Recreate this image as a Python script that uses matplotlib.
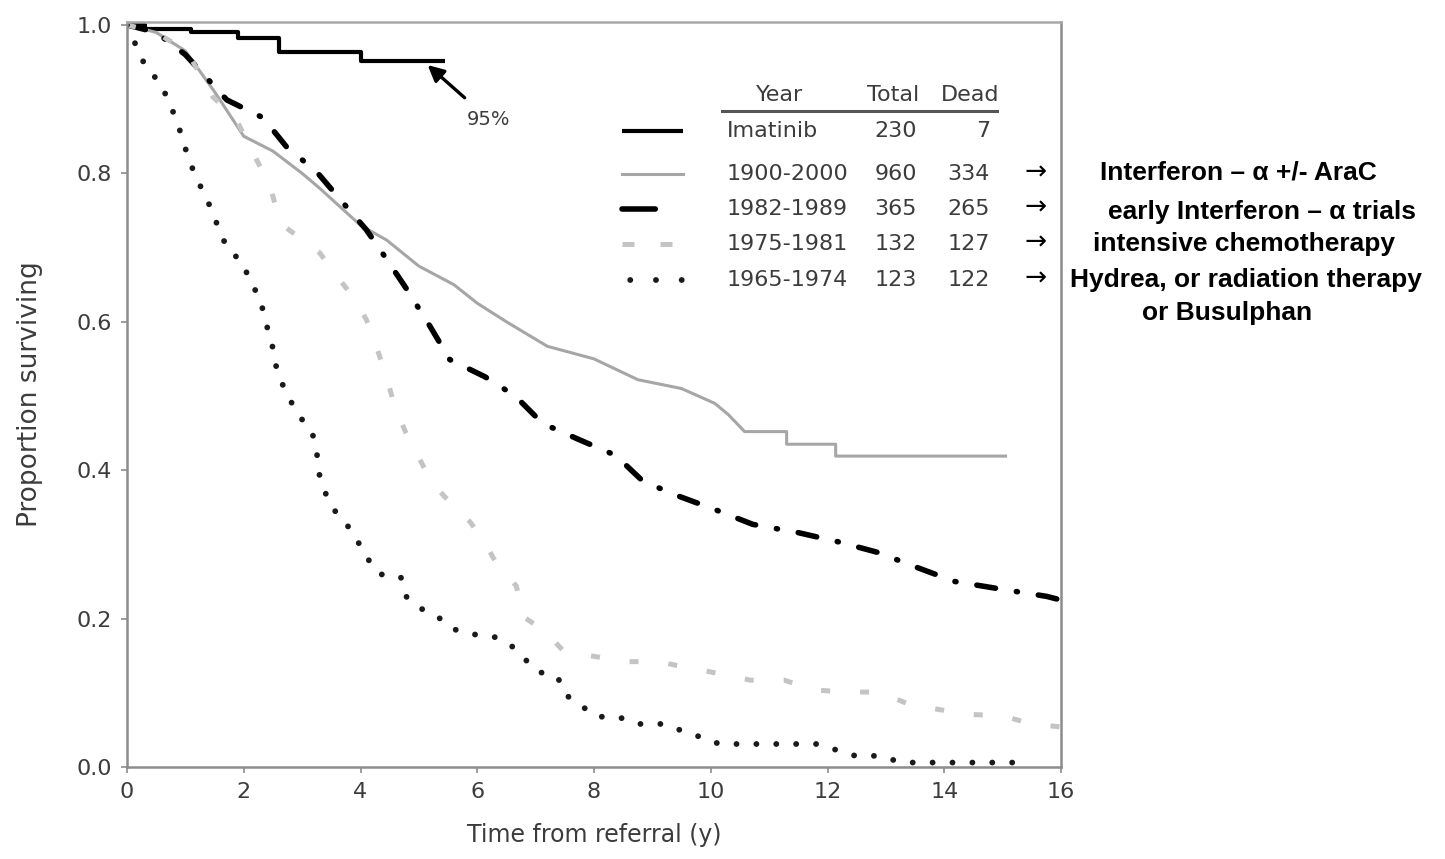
import matplotlib.pyplot as plt
from matplotlib.lines import Line2D

# survival curves (time in years, proportion surviving)
imatinib_t = [0, 0.3, 1.1, 1.9, 2.6, 4.0, 5.45]
imatinib_s = [1.0, 0.995, 0.99, 0.983, 0.964, 0.951, 0.951]

ifn_t = [0, 0.5, 1.0, 1.5, 2.0, 2.5, 3.0, 3.3, 4.0, 4.45, 5.0, 5.6, 6.0, 6.5, 7.2,
         8.0, 8.75, 9.5, 10.07, 10.3, 10.58, 11.3, 11.3, 12.14, 12.14, 15.05]
ifn_s = [1.0, 0.99, 0.965, 0.91, 0.85, 0.83, 0.80, 0.78, 0.73, 0.71, 0.675, 0.65, 0.625, 0.60, 0.567,
         0.55, 0.522, 0.51, 0.49, 0.475, 0.452, 0.452, 0.435, 0.435, 0.419, 0.419]

early_t = [0, 0.5, 1.0, 1.71, 2.33, 2.73, 3.25, 3.65, 4.1, 4.45, 4.8, 5.19, 5.53, 6.13, 6.65,
           7.12, 7.75, 8.37, 8.84, 9.45, 10.07, 10.72, 11.49, 12.21, 12.87, 13.53, 14.18, 14.95,
           15.75, 16.0]
early_s = [1.0, 0.99, 0.96, 0.899, 0.875, 0.836, 0.802, 0.765, 0.724, 0.684, 0.643, 0.594, 0.549,
           0.526, 0.50, 0.463, 0.441, 0.42, 0.385, 0.365, 0.347, 0.327, 0.316, 0.303, 0.289, 0.269,
           0.25, 0.24, 0.23, 0.225]

chemo_t = [0, 0.5, 1.03, 1.47, 1.85, 2.28, 2.48, 2.62, 2.96, 3.3, 3.6, 3.87, 4.1, 4.28, 4.45,
           4.59, 4.78, 5.02, 5.22, 5.53, 5.87, 6.13, 6.35, 6.67, 6.78, 7.16, 7.48, 8.01, 8.52,
           9.1, 9.66, 10.14, 10.68, 11.26, 11.76, 12.3, 12.9, 13.38, 13.87, 14.4, 15.0, 15.5, 16.0]
chemo_s = [1.0, 0.99, 0.964, 0.903, 0.876, 0.809, 0.775, 0.733, 0.713, 0.693, 0.661, 0.634, 0.603,
           0.565, 0.524, 0.485, 0.45, 0.414, 0.383, 0.357, 0.331, 0.303, 0.271, 0.244, 0.203,
           0.183, 0.156, 0.149, 0.142, 0.142, 0.133, 0.126, 0.117, 0.117, 0.104, 0.101, 0.101,
           0.085, 0.078, 0.071, 0.069, 0.058, 0.054]

hydrea_t = [0, 0.19, 0.34, 0.57, 0.7, 0.85, 1.05, 1.2, 1.34, 1.48, 1.6, 1.73, 1.99, 2.1, 2.28,
            2.36, 2.48, 2.53, 2.65, 2.79, 2.96, 3.17, 3.25, 3.3, 3.42, 3.58, 3.78, 3.96, 4.13,
            4.32, 4.69, 4.79, 5.05, 5.33, 5.58, 5.92, 6.3, 6.59, 6.81, 7.02, 7.38, 7.5, 7.76,
            8.03, 8.43, 8.76, 9.18, 9.54, 9.84, 10.15, 11.83, 12.19, 12.48, 12.9, 13.27, 15.37]
hydrea_s = [1.0, 0.966, 0.94, 0.923, 0.899, 0.872, 0.821, 0.791, 0.771, 0.744, 0.72, 0.697, 0.68,
            0.654, 0.633, 0.603, 0.573, 0.546, 0.518, 0.495, 0.472, 0.452, 0.424, 0.392, 0.365,
            0.343, 0.325, 0.303, 0.28, 0.26, 0.256, 0.229, 0.213, 0.202, 0.186, 0.179, 0.175,
            0.163, 0.146, 0.129, 0.121, 0.098, 0.084, 0.068, 0.067, 0.058, 0.058, 0.048, 0.04,
            0.031, 0.031, 0.022, 0.015, 0.015, 0.006, 0.006]

years = ["Imatinib", "1900-2000", "1982-1989", "1975-1981", "1965-1974"]
totals = ["230", "960", "365", "132", "123"]
deaths = ["7", "334", "265", "127", "122"]
therapies = ["Interferon \u2013 \u03b1 +/- AraC",
             "early Interferon \u2013 \u03b1 trials",
             "intensive chemotherapy",
             "Hydrea, or radiation therapy\nor Busulphan"]

x_ticks = [0, 2, 4, 6, 8, 10, 12, 14, 16]
y_ticks = [0.0, 0.2, 0.4, 0.6, 0.8, 1.0]

W, H = 1445, 859
def fx(px):
    return px / W
def fy(py):
    return 1 - py / H

plain = ['DejaVu Sans']
bold = ['Liberation Sans', 'DejaVu Sans']
txt_col = '#3c3c3c'

styles = [
    dict(color='black', lw=3.0, ls='-', solid_capstyle='butt'),
    dict(color='#a6a6a6', lw=2.2, ls='-'),
    dict(color='black', lw=4.0, ls=(0, (3.4, 3.8, 0.2, 3.8)), dash_capstyle='round'),
    dict(color='#c4c4c4', lw=3.6, ls=(0, (1.8, 6.0)), dash_capstyle='butt'),
    dict(color='#1a1a1a', lw=4.2, ls=(0, (0.01, 3.4)), dash_capstyle='round'),
]
# the key samples in the table are drawn a little differently
key_styles = [dict(s) for s in styles]
key_styles[2]['ls'] = (0, (6.0, 20.0))
key_styles[3]['ls'] = (0, (2.4, 5.2))
key_styles[4]['ls'] = (3, (0.01, 4.4))

fig = plt.figure(figsize=(W / 100, H / 100), dpi=100)
ax = fig.add_axes([fx(127), fy(767), (1061 - 127) / W, (767 - 22) / H])

ax.plot(imatinib_t, imatinib_s, drawstyle='steps-post', **styles[0])
ax.plot(ifn_t, ifn_s, **styles[1])
ax.plot(early_t, early_s, **styles[2])
ax.plot(chemo_t, chemo_s, **styles[3])
ax.plot(hydrea_t, hydrea_s, **styles[4])

ax.set_xlim(0, 16)
ax.set_ylim(0, 1.004)
ax.set_xticks(x_ticks)
ax.set_yticks(y_ticks)
ax.set_yticklabels(['%.1f' % v for v in y_ticks])
for sp in ax.spines.values():
    sp.set_color('#8c8c8c')
    sp.set_linewidth(1.8)
ax.spines['top'].set_color('#a8a8a8')
ax.tick_params(direction='out', length=4, width=1.2, color='#8c8c8c',
               labelsize=16, labelcolor=txt_col, pad=7)
ax.set_xlabel('Time from referral (y)', fontsize=17, color=txt_col, family=plain, labelpad=15)
ax.set_ylabel('Proportion surviving', fontsize=19, color=txt_col, family=plain, labelpad=24)

ax.annotate('95%', xy=(5.15, 0.946), xytext=(6.2, 0.873), ha='center', va='center',
            fontsize=14, color=txt_col, family=plain,
            arrowprops=dict(arrowstyle='-|>', color='black', lw=2.4, mutation_scale=24,
                            shrinkA=10, shrinkB=0))

# legend table
fig.text(fx(780), fy(95), 'Year', ha='center', va='center', fontsize=16, color=txt_col, family=plain)
fig.text(fx(893), fy(95), 'Total', ha='center', va='center', fontsize=16, color=txt_col, family=plain)
fig.text(fx(970), fy(95), 'Dead', ha='center', va='center', fontsize=16, color=txt_col, family=plain)
fig.add_artist(Line2D([fx(722), fx(997)], [fy(111), fy(111)], color='#555555', lw=2.2))

row_y = [131, 174, 209, 244, 280]
for i, yy in enumerate(row_y):
    fig.add_artist(Line2D([fx(622), fx(683)], [fy(yy), fy(yy)], **key_styles[i]))
    fig.text(fx(727), fy(yy), years[i], ha='left', va='center', fontsize=16, color=txt_col, family=plain)
    fig.text(fx(917), fy(yy), totals[i], ha='right', va='center', fontsize=16, color=txt_col, family=plain)
    fig.text(fx(990), fy(yy), deaths[i], ha='right', va='center', fontsize=16, color=txt_col, family=plain)

# therapy notes to the right
note_y = [172, 212, 244, 280]
note_x = [1100, 1108, 1093, 1070]
for i, txt in enumerate(therapies):
    fig.text(fx(1036), fy(row_y[i + 1] - 1), '\u2192', ha='center', va='center', fontsize=19,
             color='black', family=plain)
    lines = txt.split('\n')
    fig.text(fx(note_x[i]), fy(note_y[i]), lines[0], ha='left', va='center', fontsize=19,
             fontweight='bold', color='black', family=bold)
    if len(lines) > 1:
        fig.text(fx(1142), fy(313), lines[1], ha='left', va='center', fontsize=19,
                 fontweight='bold', color='black', family=bold)

fig.savefig('out.png', dpi=100, facecolor='white')
